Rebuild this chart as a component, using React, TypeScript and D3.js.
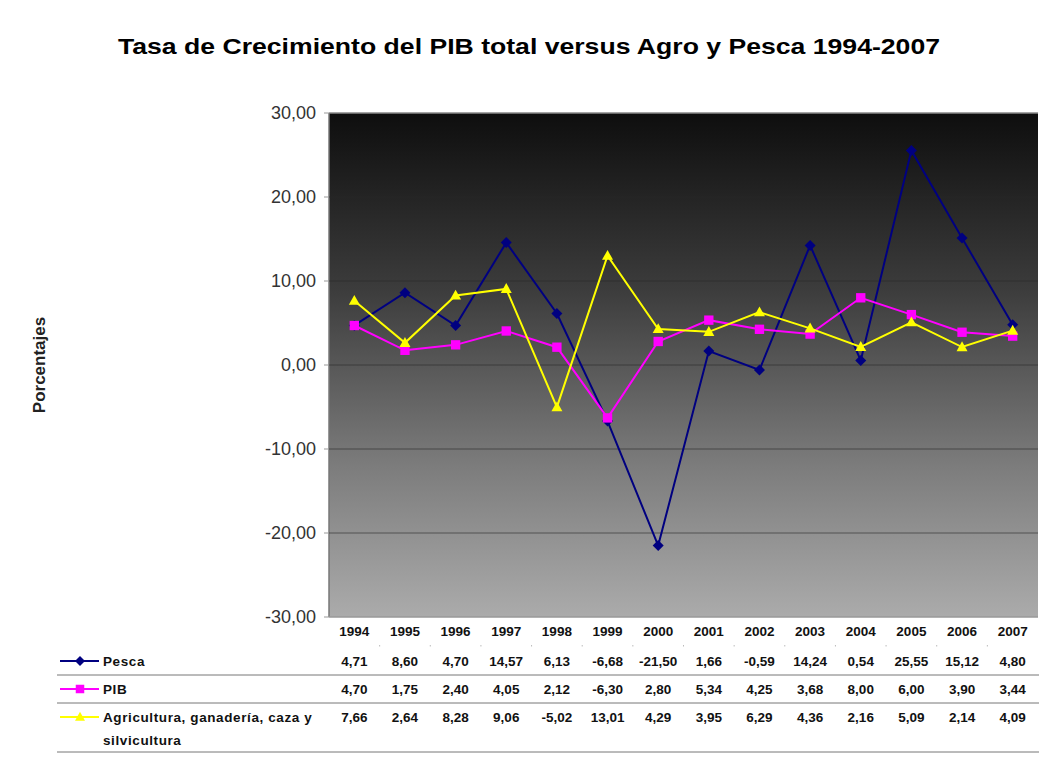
import React from "react";
import * as d3 from "d3";

const years = ["1994", "1995", "1996", "1997", "1998", "1999", "2000", "2001", "2002", "2003", "2004", "2005", "2006", "2007"];
const pesca = [4.71, 8.6, 4.7, 14.57, 6.13, -6.68, -21.5, 1.66, -0.59, 14.24, 0.54, 25.55, 15.12, 4.8];
const pib = [4.7, 1.75, 2.4, 4.05, 2.12, -6.3, 2.8, 5.34, 4.25, 3.68, 8.0, 6.0, 3.9, 3.44];
const agro = [7.66, 2.64, 8.28, 9.06, -5.02, 13.01, 4.29, 3.95, 6.29, 4.36, 2.16, 5.09, 2.14, 4.09];
const yTicks = [30, 20, 10, 0, -10, -20, -30];

const series = [
  { name: "Pesca", values: pesca, color: "#000080", marker: "diamond" },
  { name: "PIB", values: pib, color: "#ff00ff", marker: "square" },
  { name: "Agricultura, ganadería, caza y|silvicultura", values: agro, color: "#ffff00", marker: "triangle" },
];

const W = 1039;
const H = 762;
const left = 329;
const right = 1038;
const top = 113;
const bottom = 617;

const fmt = (v: number) => v.toFixed(2).replace(".", ",");

function marker(type: string, x: number, y: number, color: string, s: number) {
  if (type === "diamond") {
    return <path d={`M${x},${y - s}L${x + s},${y}L${x},${y + s}L${x - s},${y}Z`} fill={color} />;
  }
  if (type === "square") {
    return <rect x={x - s * 0.85} y={y - s * 0.85} width={s * 1.7} height={s * 1.7} fill={color} />;
  }
  return <path d={`M${x},${y - s * 1.05}L${x + s},${y + s * 0.75}L${x - s},${y + s * 0.75}Z`} fill={color} />;
}

export default function App() {
  const x = d3.scaleBand<string>().domain(years).range([left, right]);
  const y = d3.scaleLinear().domain([-30, 30]).range([bottom, top]);
  const cx = (d: string) => (x(d) as number) + x.bandwidth() / 2;
  const line = d3
    .line<number>()
    .x((_, i) => cx(years[i]))
    .y((v) => y(v));

  const rowY = [661, 689, 717];
  const rowLines = [675, 703, 752];

  return (
    <svg width={W} height={H} style={{ position: "absolute", left: 0, top: 0, background: "#fff" }} fontFamily="Liberation Sans, Arial, sans-serif">
      <defs>
        <linearGradient id="bg" x1="0" y1="0" x2="0" y2="1">
          <stop offset="0%" stopColor="#0e0e0e" />
          <stop offset="35%" stopColor="#3c3c3c" />
          <stop offset="70%" stopColor="#7c7c7c" />
          <stop offset="100%" stopColor="#ababab" />
        </linearGradient>
      </defs>

      <text x={529} y={54} textAnchor="middle" fontSize={22} fontWeight="bold" textLength={822} lengthAdjust="spacingAndGlyphs">
        Tasa de Crecimiento del PIB total versus Agro y Pesca 1994-2007
      </text>

      <rect x={left} y={top} width={right - left} height={bottom - top} fill="url(#bg)" />
      <line x1={left} x2={right} y1={top} y2={top} stroke="#888" strokeWidth={1.5} />
      <line x1={left} x2={left} y1={top} y2={bottom} stroke="#777" strokeWidth={1.5} />
      <line x1={left} x2={right} y1={bottom} y2={bottom} stroke="#999" strokeWidth={1.5} />

      {yTicks.slice(1, -1).map((t) => (
        <line key={t} x1={left} x2={right} y1={y(t)} y2={y(t)} stroke="#2a2a2a" strokeOpacity={0.6} strokeWidth={1} />
      ))}
      {yTicks.map((t) => (
        <g key={"t" + t}>
          <line x1={left - 5} x2={left} y1={y(t)} y2={y(t)} stroke="#999" />
          <text x={316} y={y(t) + 6} textAnchor="end" fontSize={18} fill="#333">
            {fmt(t)}
          </text>
        </g>
      ))}

      <text transform="translate(45,365) rotate(-90)" textAnchor="middle" fontSize={17} fontWeight="bold" fill="#222">
        Porcentajes
      </text>

      {series.map((s) => (
        <g key={s.name}>
          <path d={line(s.values) || ""} fill="none" stroke={s.color} strokeWidth={2} />
          {s.values.map((v, i) => (
            <g key={i}>{marker(s.marker, cx(years[i]), y(v), s.color, 5.5)}</g>
          ))}
        </g>
      ))}

      {years.map((yr) => (
        <text key={yr} x={cx(yr)} y={636} textAnchor="middle" fontSize={13.5} fontWeight="bold" fill="#111">
          {yr}
        </text>
      ))}
      {years.slice(1).map((yr) => (
        <g key={"d" + yr}>
          <line x1={x(yr) as number} x2={x(yr) as number} y1={645} y2={646.5} stroke="#bbb" />
        </g>
      ))}

      {rowLines.map((ly) => (
        <line key={ly} x1={57} x2={W} y1={ly} y2={ly} stroke="#777" strokeWidth={1} />
      ))}

      {series.map((s, r) => {
        const ly = rowY[r];
        const lines = s.name.split("|");
        return (
          <g key={"row" + s.name}>
            <line x1={60} x2={99} y1={ly} y2={ly} stroke={s.color} strokeWidth={2} />
            {marker(s.marker, 80, ly, s.color, 5)}
            {lines.map((t, k) => (
              <text key={k} x={103} y={ly + 5 + k * 23} fontSize={13.5} fontWeight="bold" letterSpacing={0.6} fill="#111">
                {t}
              </text>
            ))}
            {s.values.map((v, i) => (
              <text key={i} x={cx(years[i])} y={ly + 5} textAnchor="middle" fontSize={13.5} fontWeight="bold" fill="#111">
                {fmt(v)}
              </text>
            ))}
          </g>
        );
      })}
    </svg>
  );
}
